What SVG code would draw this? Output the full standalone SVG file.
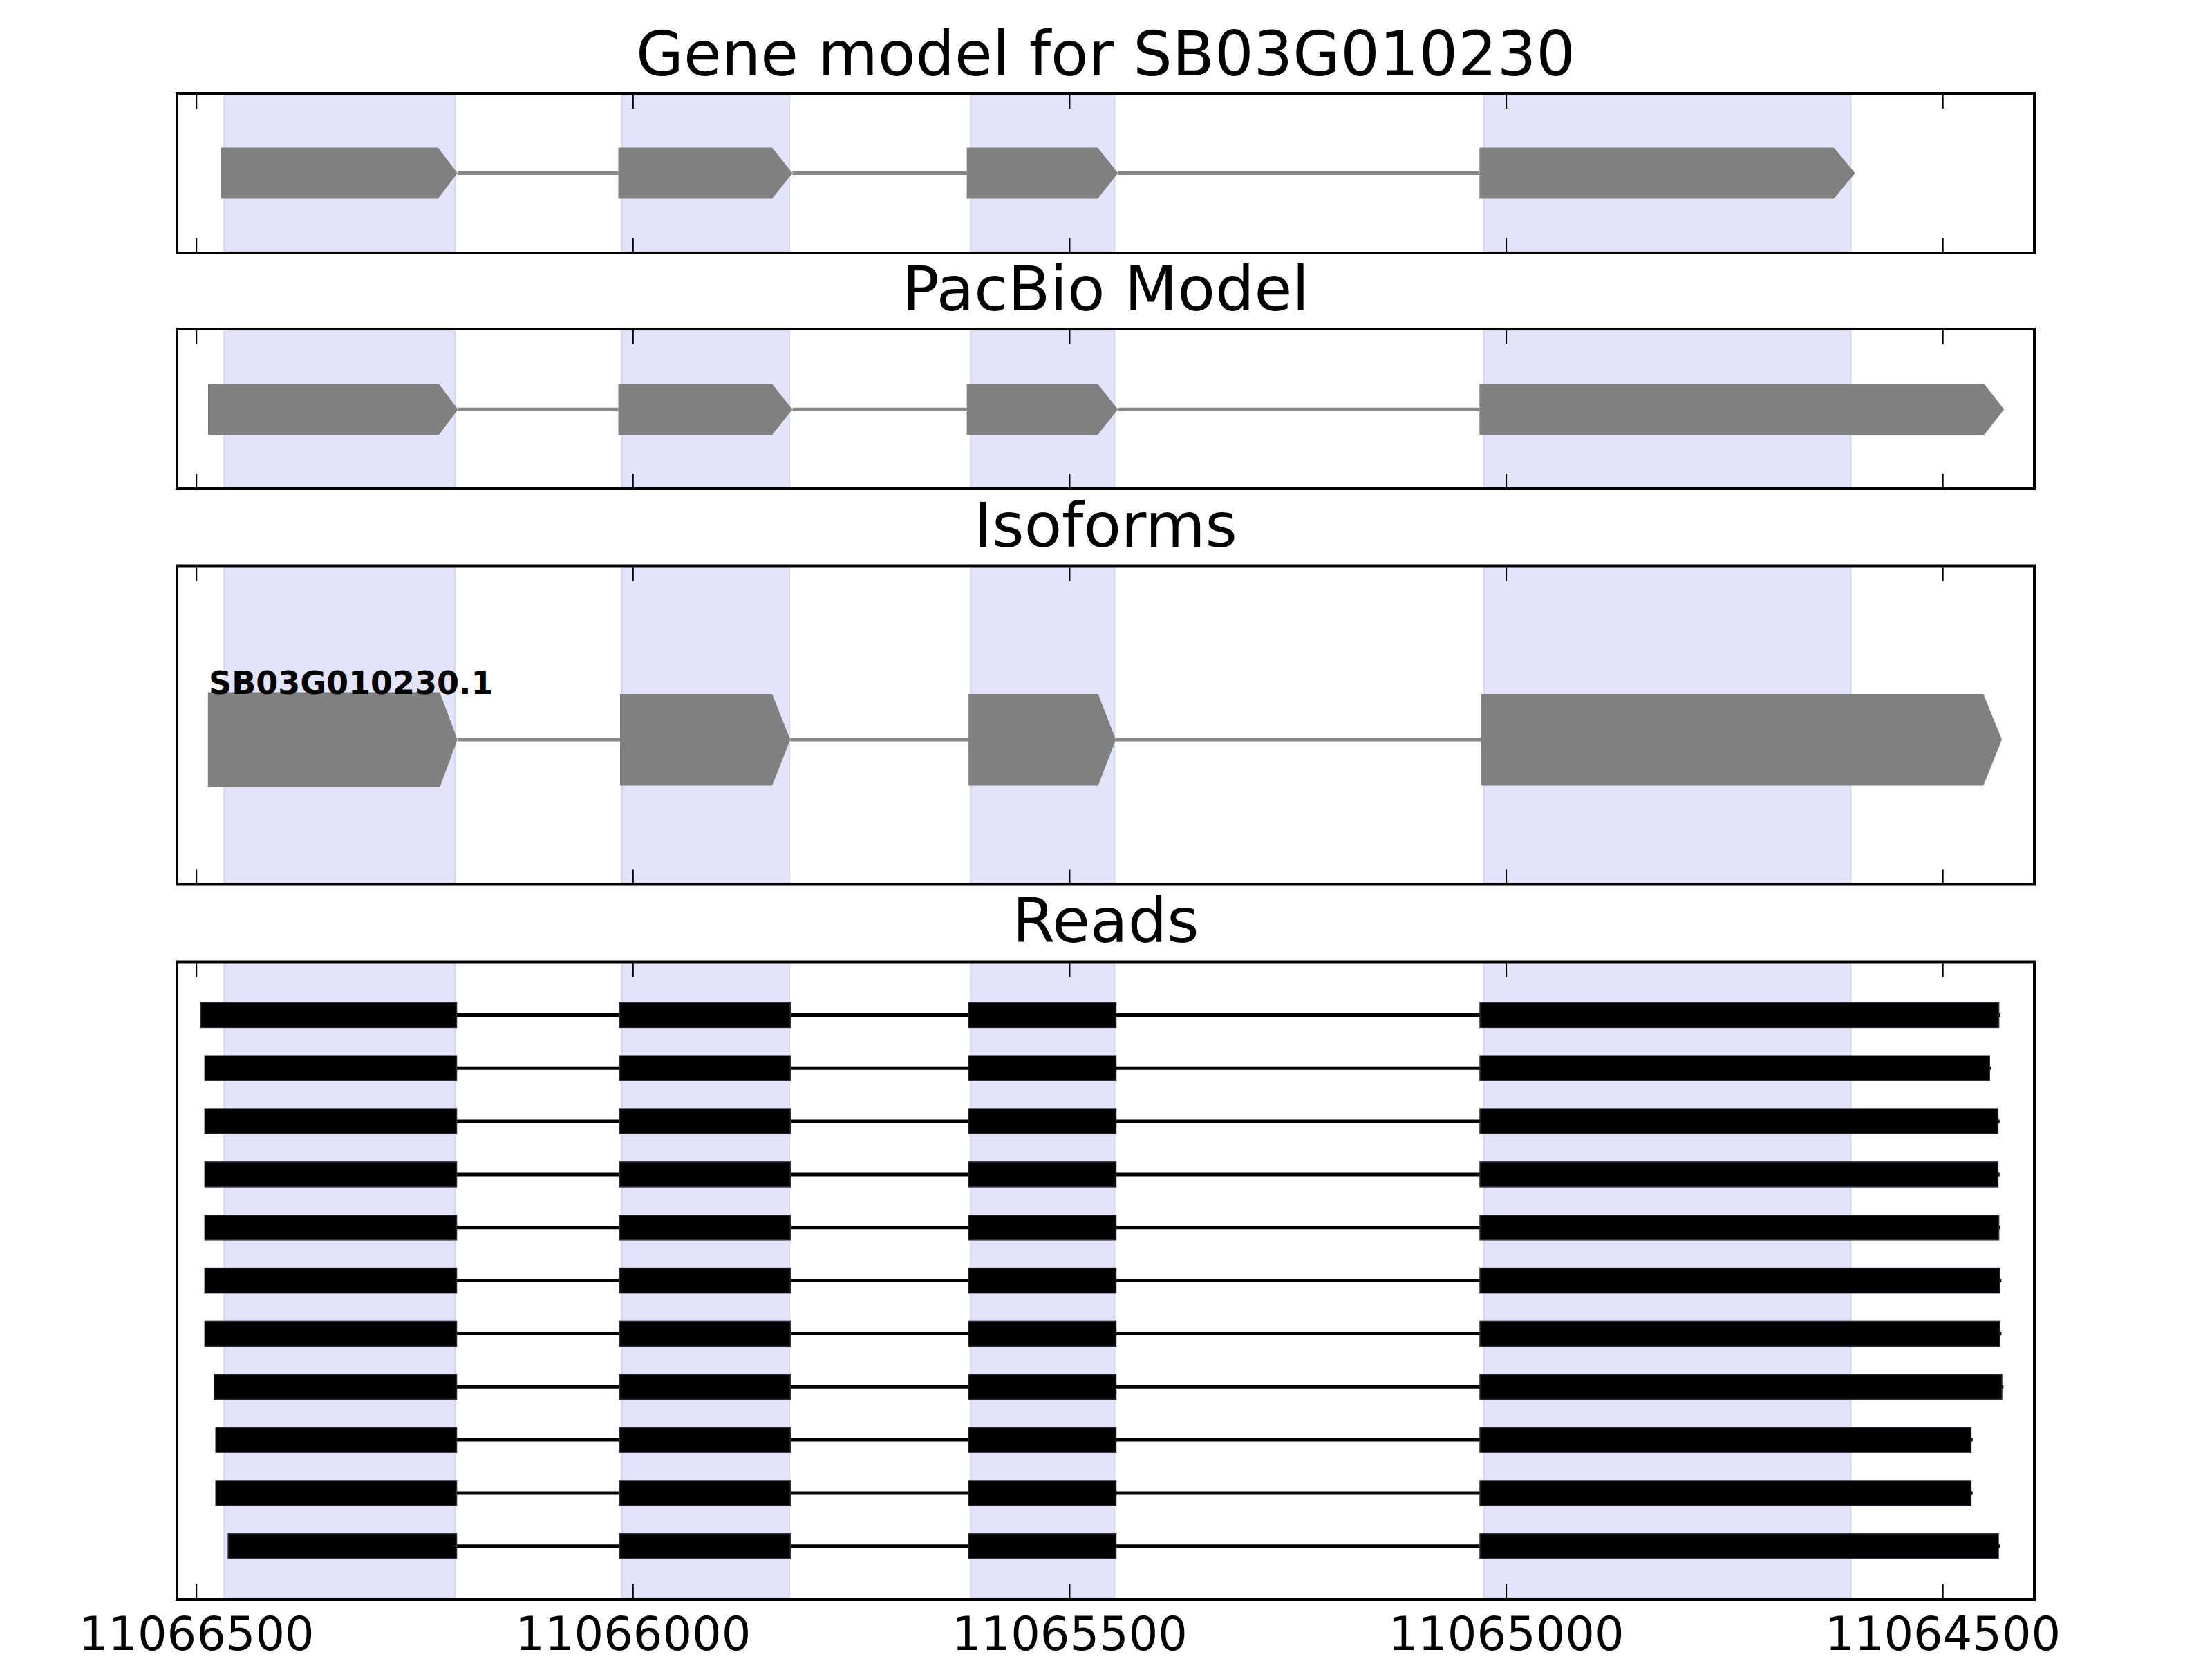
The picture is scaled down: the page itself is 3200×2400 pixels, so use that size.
<svg xmlns="http://www.w3.org/2000/svg" width="3200" height="2400" viewBox="0 0 3200 2400">
<style>
.bg{fill:#ffffff}
.hl{fill:#e3e3fc;stroke:#d8d8ec;stroke-width:2.5}
.frame{fill:none;stroke:#000;stroke-width:4}
.tick{stroke:#000;stroke-width:2}
.title{font-family:"DejaVu Sans","Liberation Sans",sans-serif;font-size:89px;fill:#000;text-anchor:middle}
.tlab{font-family:"DejaVu Sans","Liberation Sans",sans-serif;font-size:67px;fill:#000;text-anchor:middle}
.iso{font-family:"DejaVu Sans","Liberation Sans",sans-serif;font-size:46px;font-weight:bold;fill:#000}
.ex{fill:#808080}
.intr{stroke:#868686;stroke-width:5}
.rd{fill:#000;stroke:#2a2a33;stroke-width:1.5}
.rin{stroke:#000;stroke-width:5}
</style>
<rect class="bg" x="0" y="0" width="3200" height="2400"/>

<g id="highlights">
  <rect class="hl" x="324.5" y="137" width="333.7" height="227"/>
  <rect class="hl" x="899.6" y="137" width="242.4" height="227"/>
  <rect class="hl" x="1404.3" y="137" width="207.9" height="227"/>
  <rect class="hl" x="2146.7" y="137" width="530.5" height="227"/>

  <rect class="hl" x="324.5" y="478" width="333.7" height="227"/>
  <rect class="hl" x="899.6" y="478" width="242.4" height="227"/>
  <rect class="hl" x="1404.3" y="478" width="207.9" height="227"/>
  <rect class="hl" x="2146.7" y="478" width="530.5" height="227"/>

  <rect class="hl" x="324.5" y="820.5" width="333.7" height="457"/>
  <rect class="hl" x="899.6" y="820.5" width="242.4" height="457"/>
  <rect class="hl" x="1404.3" y="820.5" width="207.9" height="457"/>
  <rect class="hl" x="2146.7" y="820.5" width="530.5" height="457"/>

  <rect class="hl" x="324.5" y="1393.5" width="333.7" height="918.5"/>
  <rect class="hl" x="899.6" y="1393.5" width="242.4" height="918.5"/>
  <rect class="hl" x="1404.3" y="1393.5" width="207.9" height="918.5"/>
  <rect class="hl" x="2146.7" y="1393.5" width="530.5" height="918.5"/>
</g>

<g id="connectors">
  <line class="intr" x1="661.7" y1="250.5" x2="894.5" y2="250.5"/>
  <line class="intr" x1="1146.4" y1="250.5" x2="1398.6" y2="250.5"/>
  <line class="intr" x1="1617.3" y1="250.5" x2="2140.3" y2="250.5"/>

  <line class="intr" x1="662.6" y1="592.3" x2="894.5" y2="592.3"/>
  <line class="intr" x1="1146.4" y1="592.3" x2="1398.6" y2="592.3"/>
  <line class="intr" x1="1617.3" y1="592.3" x2="2140.3" y2="592.3"/>

  <line class="intr" x1="661.7" y1="1070" x2="897" y2="1070"/>
  <line class="intr" x1="1143.2" y1="1070" x2="1401.1" y2="1070"/>
  <line class="intr" x1="1614.2" y1="1070" x2="2142.9" y2="1070"/>

  <line class="rin" x1="290.6" y1="1468.4" x2="2894" y2="1468.4"/>
  <line class="rin" x1="296.3" y1="1545.2" x2="2880.5" y2="1545.2"/>
  <line class="rin" x1="296.3" y1="1622.1" x2="2892.7" y2="1622.1"/>
  <line class="rin" x1="296.3" y1="1698.9" x2="2892.7" y2="1698.9"/>
  <line class="rin" x1="296.3" y1="1775.8" x2="2894" y2="1775.8"/>
  <line class="rin" x1="296.3" y1="1852.6" x2="2895.4" y2="1852.6"/>
  <line class="rin" x1="296.3" y1="1929.4" x2="2895.4" y2="1929.4"/>
  <line class="rin" x1="309.7" y1="2006.3" x2="2898.3" y2="2006.3"/>
  <line class="rin" x1="312.2" y1="2083.1" x2="2853.7" y2="2083.1"/>
  <line class="rin" x1="312.2" y1="2160" x2="2853.7" y2="2160"/>
  <line class="rin" x1="330.1" y1="2236.8" x2="2893.3" y2="2236.8"/>
</g>

<g id="gene-model">
  <text class="title" x="1599.5" y="108.8">Gene model for SB03G010230</text>
  <polygon class="ex" points="320,213.5 633.7,213.5 661.7,250.5 633.7,287.5 320,287.5"/>
  <polygon class="ex" points="894.5,213.5 1117,213.5 1146.4,250.5 1117,287.5 894.5,287.5"/>
  <polygon class="ex" points="1398.6,213.5 1588,213.5 1617.3,250.5 1588,287.5 1398.6,287.5"/>
  <polygon class="ex" points="2140.3,213.5 2653,213.5 2683.7,250.5 2653,287.5 2140.3,287.5"/>
</g>

<g id="pacbio-model">
  <text class="title" x="1599.5" y="449">PacBio Model</text>
  <polygon class="ex" points="301,555.5 635,555.5 662.6,592.3 635,629 301,629"/>
  <polygon class="ex" points="894.5,555.5 1117,555.5 1146.4,592.3 1117,629 894.5,629"/>
  <polygon class="ex" points="1398.6,555.5 1588,555.5 1617.3,592.3 1588,629 1398.6,629"/>
  <polygon class="ex" points="2140.3,555.5 2870.5,555.5 2899.2,592.3 2870.5,629 2140.3,629"/>
</g>

<g id="isoforms">
  <text class="title" x="1599.5" y="791.4">Isoforms</text>
  <polygon class="ex" points="300.8,1001.5 636.2,1001.5 661.7,1070 636.2,1139 300.8,1139"/>
  <polygon class="ex" points="897,1004 1117,1004 1143.2,1070 1117,1136.5 897,1136.5"/>
  <polygon class="ex" points="1401.1,1004 1588.6,1004 1614.2,1070 1588.6,1136.5 1401.1,1136.5"/>
  <polygon class="ex" points="2142.9,1004 2869.3,1004 2896,1070 2869.3,1136.5 2142.9,1136.5"/>
  <text class="iso" x="302" y="1004">SB03G010230.1</text>
</g>

<g id="reads">
  <text class="title" x="1599.5" y="1363">Reads</text>
  <g id="read-1">
    <rect class="rd" x="290.6" y="1450.4" width="369.9" height="36"/>
    <rect class="rd" x="896.4" y="1450.4" width="246.8" height="36"/>
    <rect class="rd" x="1401" y="1450.4" width="213.5" height="36"/>
    <rect class="rd" x="2141" y="1450.4" width="750.6" height="36"/>
  </g>
  <g id="read-2">
    <rect class="rd" x="296.3" y="1527.2" width="364.2" height="36"/>
    <rect class="rd" x="896.4" y="1527.2" width="246.8" height="36"/>
    <rect class="rd" x="1401" y="1527.2" width="213.5" height="36"/>
    <rect class="rd" x="2141" y="1527.2" width="737.2" height="36"/>
  </g>
  <g id="read-3">
    <rect class="rd" x="296.3" y="1604.1" width="364.2" height="36"/>
    <rect class="rd" x="896.4" y="1604.1" width="246.8" height="36"/>
    <rect class="rd" x="1401" y="1604.1" width="213.5" height="36"/>
    <rect class="rd" x="2141" y="1604.1" width="749.4" height="36"/>
  </g>
  <g id="read-4">
    <rect class="rd" x="296.3" y="1680.9" width="364.2" height="36"/>
    <rect class="rd" x="896.4" y="1680.9" width="246.8" height="36"/>
    <rect class="rd" x="1401" y="1680.9" width="213.5" height="36"/>
    <rect class="rd" x="2141" y="1680.9" width="749.4" height="36"/>
  </g>
  <g id="read-5">
    <rect class="rd" x="296.3" y="1757.8" width="364.2" height="36"/>
    <rect class="rd" x="896.4" y="1757.8" width="246.8" height="36"/>
    <rect class="rd" x="1401" y="1757.8" width="213.5" height="36"/>
    <rect class="rd" x="2141" y="1757.8" width="750.6" height="36"/>
  </g>
  <g id="read-6">
    <rect class="rd" x="296.3" y="1834.6" width="364.2" height="36"/>
    <rect class="rd" x="896.4" y="1834.6" width="246.8" height="36"/>
    <rect class="rd" x="1401" y="1834.6" width="213.5" height="36"/>
    <rect class="rd" x="2141" y="1834.6" width="752.1" height="36"/>
  </g>
  <g id="read-7">
    <rect class="rd" x="296.3" y="1911.4" width="364.2" height="36"/>
    <rect class="rd" x="896.4" y="1911.4" width="246.8" height="36"/>
    <rect class="rd" x="1401" y="1911.4" width="213.5" height="36"/>
    <rect class="rd" x="2141" y="1911.4" width="752.1" height="36"/>
  </g>
  <g id="read-8">
    <rect class="rd" x="309.7" y="1988.3" width="350.8" height="36"/>
    <rect class="rd" x="896.4" y="1988.3" width="246.8" height="36"/>
    <rect class="rd" x="1401" y="1988.3" width="213.5" height="36"/>
    <rect class="rd" x="2141" y="1988.3" width="755" height="36"/>
  </g>
  <g id="read-9">
    <rect class="rd" x="312.2" y="2065.1" width="348.3" height="36"/>
    <rect class="rd" x="896.4" y="2065.1" width="246.8" height="36"/>
    <rect class="rd" x="1401" y="2065.1" width="213.5" height="36"/>
    <rect class="rd" x="2141" y="2065.1" width="710.4" height="36"/>
  </g>
  <g id="read-10">
    <rect class="rd" x="312.2" y="2142" width="348.3" height="36"/>
    <rect class="rd" x="896.4" y="2142" width="246.8" height="36"/>
    <rect class="rd" x="1401" y="2142" width="213.5" height="36"/>
    <rect class="rd" x="2141" y="2142" width="710.4" height="36"/>
  </g>
  <g id="read-11">
    <rect class="rd" x="330.1" y="2218.8" width="330.4" height="36"/>
    <rect class="rd" x="896.4" y="2218.8" width="246.8" height="36"/>
    <rect class="rd" x="1401" y="2218.8" width="213.5" height="36"/>
    <rect class="rd" x="2141" y="2218.8" width="750" height="36"/>
  </g>
</g>

<g id="axes">
  <rect class="frame" x="256" y="135" width="2687" height="231"/>
  <rect class="frame" x="256" y="476" width="2687" height="231"/>
  <rect class="frame" x="256" y="818.5" width="2687" height="461"/>
  <rect class="frame" x="256" y="1391.5" width="2687" height="922.5"/>
  <g id="ticks">
    <path class="tick" d="M284.2 137v20M915.8 137v20M1547.4 137v20M2179.1 137v20M2810.7 137v20M284.2 364v-20M915.8 364v-20M1547.4 364v-20M2179.1 364v-20M2810.7 364v-20"/>
    <path class="tick" d="M284.2 478v20M915.8 478v20M1547.4 478v20M2179.1 478v20M2810.7 478v20M284.2 705v-20M915.8 705v-20M1547.4 705v-20M2179.1 705v-20M2810.7 705v-20"/>
    <path class="tick" d="M284.2 820.5v20M915.8 820.5v20M1547.4 820.5v20M2179.1 820.5v20M2810.7 820.5v20M284.2 1277.5v-20M915.8 1277.5v-20M1547.4 1277.5v-20M2179.1 1277.5v-20M2810.7 1277.5v-20"/>
    <path class="tick" d="M284.2 1393.5v20M915.8 1393.5v20M1547.4 1393.5v20M2179.1 1393.5v20M2810.7 1393.5v20M284.2 2312v-20M915.8 2312v-20M1547.4 2312v-20M2179.1 2312v-20M2810.7 2312v-20"/>
  </g>
  <text class="tlab" x="284.2" y="2387">11066500</text>
  <text class="tlab" x="915.8" y="2387">11066000</text>
  <text class="tlab" x="1547.4" y="2387">11065500</text>
  <text class="tlab" x="2179.1" y="2387">11065000</text>
  <text class="tlab" x="2810.7" y="2387">11064500</text>
</g>
</svg>
